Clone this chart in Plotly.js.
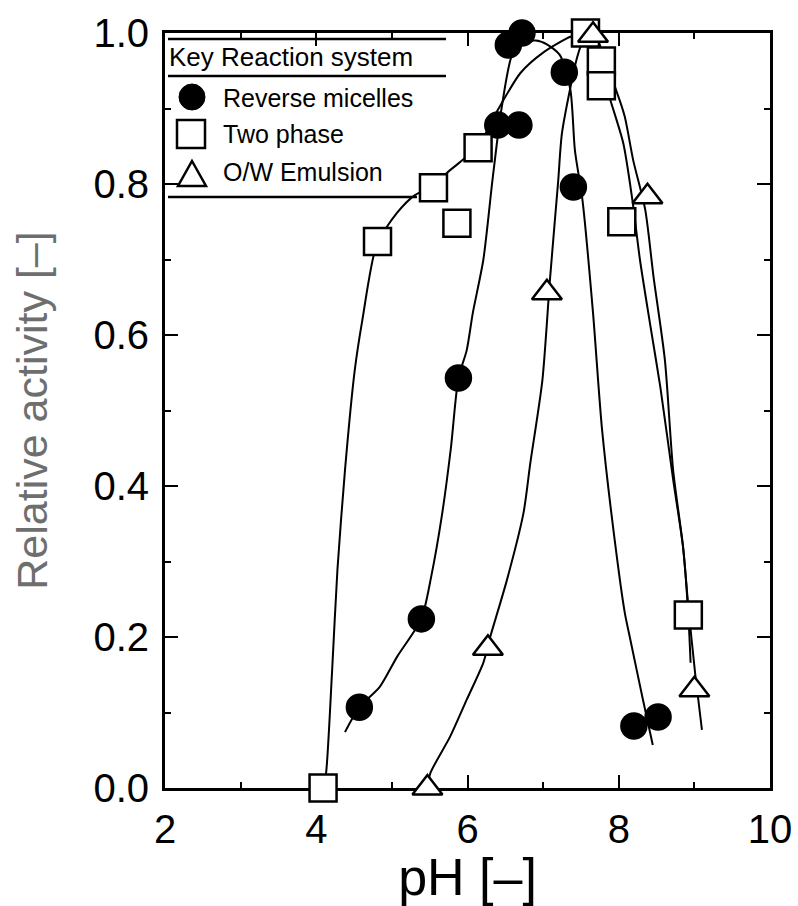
<!DOCTYPE html>
<html>
<head>
<meta charset="utf-8">
<script src="https://cdn.plot.ly/plotly-3.0.1.min.js"></script>
<style>html,body{margin:0;padding:0;background:#fff;}#chart{width:798px;height:906px;}</style>
</head>
<body>
<div id="chart"></div>
<script>
// ---- measured data (pH, relative activity) ----
const rmPH  = [4.57, 5.39, 5.88, 6.40, 6.54, 6.68, 6.72, 7.28, 7.40, 8.20, 8.52];
const rmAct = [0.107, 0.224, 0.543, 0.878, 0.984, 0.878, 1.000, 0.948, 0.796, 0.082, 0.094];

const tpPH  = [4.09, 4.81, 5.55, 5.86, 6.14, 7.56, 7.77, 7.77, 8.04, 8.92];
const tpAct = [0.000, 0.724, 0.795, 0.748, 0.848, 1.000, 0.963, 0.930, 0.750, 0.229];

const owPH  = [5.47, 6.27, 7.05, 7.66, 8.38, 9.00];
const owAct = [0.000, 0.185, 0.656, 0.997, 0.783, 0.130];

// ---- hand-drawn trend curves ----
const rmFitPH  = [4.38, 4.57, 4.84, 5.07, 5.39, 5.52, 5.66, 5.78, 5.88, 5.99, 6.07, 6.21, 6.33, 6.45, 6.60, 6.75, 6.90, 7.05, 7.22, 7.36, 7.42, 7.52, 7.66, 7.78, 7.98, 8.08, 8.15, 8.32, 8.45];
const rmFitAct = [0.074, 0.107, 0.134, 0.174, 0.224, 0.280, 0.360, 0.450, 0.543, 0.580, 0.629, 0.700, 0.805, 0.900, 0.974, 0.987, 0.990, 0.985, 0.971, 0.925, 0.845, 0.779, 0.629, 0.474, 0.302, 0.232, 0.198, 0.117, 0.057];

const tpFitPH  = [4.09, 4.13, 4.21, 4.28, 4.38, 4.51, 4.61, 4.80, 5.07, 5.30, 5.55, 5.73, 5.94, 6.14, 6.40, 6.70, 7.00, 7.36, 7.56, 7.75, 7.89, 8.06, 8.18, 8.28, 8.42, 8.55, 8.72, 8.85, 8.92, 8.95];
const tpFitAct = [0.000, 0.020, 0.156, 0.289, 0.421, 0.554, 0.620, 0.720, 0.762, 0.785, 0.797, 0.815, 0.832, 0.850, 0.898, 0.947, 0.974, 0.995, 1.000, 0.960, 0.911, 0.854, 0.779, 0.700, 0.611, 0.531, 0.408, 0.319, 0.229, 0.166];

const owFitPH  = [5.47, 5.51, 5.77, 5.99, 6.21, 6.30, 6.52, 6.74, 6.83, 6.99, 7.09, 7.20, 7.25, 7.45, 7.53, 7.66, 7.98, 8.08, 8.19, 8.35, 8.46, 8.61, 8.72, 8.85, 8.92, 9.01, 9.10];
const owFitAct = [0.000, 0.020, 0.068, 0.117, 0.166, 0.200, 0.275, 0.364, 0.430, 0.540, 0.673, 0.805, 0.868, 0.968, 0.990, 1.000, 0.920, 0.889, 0.832, 0.766, 0.677, 0.567, 0.420, 0.320, 0.240, 0.152, 0.077];

// ---- labels ----
const xTickVals = [2, 4, 6, 8, 10];
const yTickVals = [0.0, 0.2, 0.4, 0.6, 0.8, 1.0];
const xTitle = 'pH [–]';
const yTitle = 'Relative activity [–]';
const legendHeader = 'Key Reaction system';
const seriesNames = ['Reverse micelles', 'Two phase', 'O/W Emulsion'];

const FONT = 'Liberation Sans, Arial, Helvetica, sans-serif';

function fitLine(xs, ys) {
  return {x: xs, y: ys, mode: 'lines', type: 'scatter', showlegend: false, hoverinfo: 'skip',
          line: {color: '#000', width: 2, shape: 'spline', smoothing: 0.7}, cliponaxis: false};
}
function pts(xs, ys, name, symbol, fill, size) {
  return {x: xs, y: ys, mode: 'markers', type: 'scatter', name: name, showlegend: false, cliponaxis: false,
          marker: {symbol: symbol, size: size, color: fill, line: {color: '#000', width: 2.5}}};
}

const data = [
  fitLine(rmFitPH, rmFitAct),
  fitLine(tpFitPH, tpFitAct),
  fitLine(owFitPH, owFitAct),
  pts(rmPH, rmAct, seriesNames[0], 'circle', '#000', 25),
  pts(tpPH, tpAct, seriesNames[1], 'square', '#fff', 27),
  pts(owPH, owAct, seriesNames[2], 'triangle-up', '#fff', 26)
];

// legend drawn as a key box inside the plot (paper coordinates)
const W = 605, H = 755, L = 165, T = 33;
const px = v => (v - L) / W;
const py = v => (T + H - v) / H;

const shapes = [
  {type: 'line', xref: 'paper', yref: 'paper', x0: px(168), x1: px(446), y0: py(39), y1: py(39), line: {color: '#000', width: 2.5}},
  {type: 'line', xref: 'paper', yref: 'paper', x0: px(168), x1: px(446), y0: py(76), y1: py(76), line: {color: '#000', width: 2.5}},
  {type: 'line', xref: 'paper', yref: 'paper', x0: px(168), x1: px(417), y0: py(197), y1: py(197), line: {color: '#000', width: 2.5}},
  {type: 'circle', xref: 'paper', yref: 'paper', x0: px(179), x1: px(205), y0: py(110), y1: py(84), fillcolor: '#000', line: {color: '#000', width: 1}},
  {type: 'rect', xref: 'paper', yref: 'paper', x0: px(177), x1: px(205), y0: py(148), y1: py(120), fillcolor: '#fff', line: {color: '#000', width: 2.5}},
  {type: 'path', xref: 'paper', yref: 'paper',
   path: 'M ' + px(192) + ',' + py(161) + ' L ' + px(206) + ',' + py(186) + ' L ' + px(178) + ',' + py(186) + ' Z',
   fillcolor: '#fff', line: {color: '#000', width: 2.5}}
];

const annotations = [
  {xref: 'paper', yref: 'paper', x: px(167), y: py(57), xanchor: 'left', yanchor: 'middle', showarrow: false,
   text: legendHeader, font: {family: FONT, size: 26, color: '#000'}},
  {xref: 'paper', yref: 'paper', x: px(221), y: py(98), xanchor: 'left', yanchor: 'middle', showarrow: false,
   text: seriesNames[0], font: {family: FONT, size: 25, color: '#000'}},
  {xref: 'paper', yref: 'paper', x: px(221), y: py(134), xanchor: 'left', yanchor: 'middle', showarrow: false,
   text: seriesNames[1], font: {family: FONT, size: 25, color: '#000'}},
  {xref: 'paper', yref: 'paper', x: px(221), y: py(172), xanchor: 'left', yanchor: 'middle', showarrow: false,
   text: seriesNames[2], font: {family: FONT, size: 25, color: '#000'}}
];

const layout = {
  width: 798, height: 906,
  margin: {l: 165, r: 28, t: 33, b: 118},
  paper_bgcolor: '#fff', plot_bgcolor: '#fff',
  showlegend: false,
  font: {family: FONT, color: '#000'},
  xaxis: {
    range: [2, 10], tickvals: xTickVals, ticktext: xTickVals.map(String),
    ticks: 'inside', ticklen: 13, tickwidth: 2, tickcolor: '#000', ticklabelstandoff: 4,
    minor: {dtick: 1, tick0: 0, ticks: 'inside', ticklen: 6, tickwidth: 2, tickcolor: '#000'},
    showline: true, linewidth: 3, linecolor: '#000', mirror: 'allticks',
    showgrid: false, zeroline: false, layer: 'below traces',
    tickfont: {family: FONT, size: 40, color: '#000'},
    title: {text: xTitle, font: {family: FONT, size: 52, color: '#000'}, standoff: 6}
  },
  yaxis: {
    range: [0, 1], tickvals: yTickVals, ticktext: yTickVals.map(v => v.toFixed(1)),
    ticks: 'inside', ticklen: 13, tickwidth: 2, tickcolor: '#000', ticklabelstandoff: 5,
    minor: {dtick: 0.1, tick0: 0, ticks: 'inside', ticklen: 6, tickwidth: 2, tickcolor: '#000'},
    showline: true, linewidth: 3, linecolor: '#000', mirror: 'allticks',
    showgrid: false, zeroline: false, layer: 'below traces',
    tickfont: {family: FONT, size: 40, color: '#000'},
    title: {text: yTitle, font: {family: FONT, size: 43, color: '#6e6e6e'}, standoff: 33}
  },
  shapes: shapes,
  annotations: annotations
};

Plotly.newPlot('chart', data, layout, {staticPlot: true, displayModeBar: false});
</script>
</body>
</html>
